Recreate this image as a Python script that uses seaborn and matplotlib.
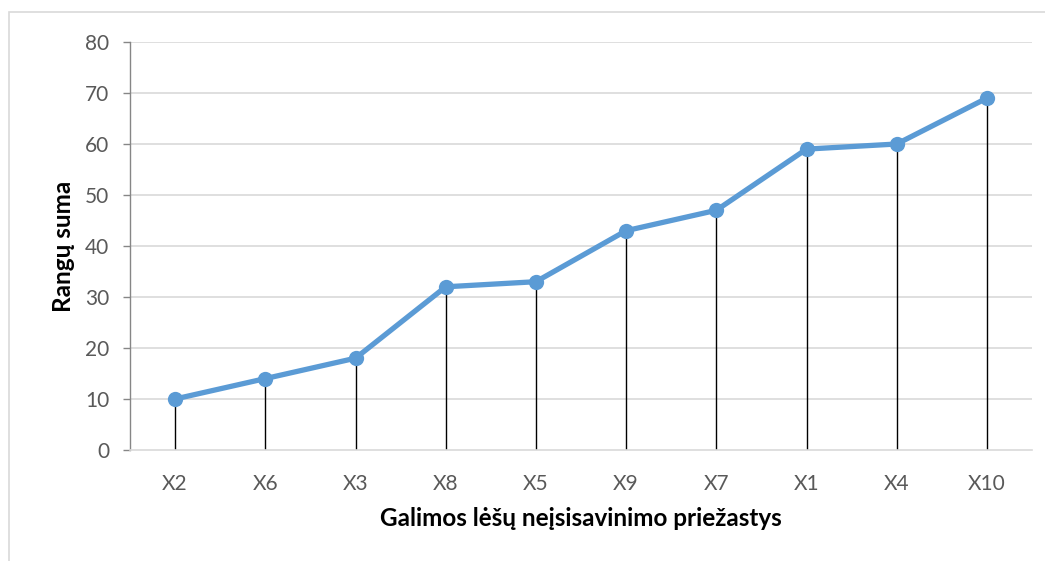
import matplotlib
matplotlib.use("Agg")
import matplotlib.pyplot as plt
import seaborn as sns
import pandas as pd
from matplotlib.patches import Rectangle

categories = ["X2", "X6", "X3", "X8", "X5", "X9", "X7", "X1", "X4", "X10"]
values = [10, 14, 18, 32, 33, 43, 47, 59, 60, 69]
y_ticks = [0, 10, 20, 30, 40, 50, 60, 70, 80]

sns.set_style("white")
plt.rcParams['font.family'] = ['Lato', 'DejaVu Sans']

df = pd.DataFrame({"pos": range(len(categories)), "cat": categories, "val": values})

fig = plt.figure(figsize=(10.45, 5.61), dpi=100)
ax = fig.add_axes([130/1045, 1 - 450/561, (1032-130)/1045, (450-42)/561])

# outer chart border
fig.patches.append(Rectangle((9/1045, -0.1), 1.2, 1 - 12/561 + 0.1, transform=fig.transFigure,
                             fill=False, edgecolor="#d9d9d9", linewidth=1.2, zorder=0))

for t in y_ticks[1:]:
    ax.axhline(t, color="#d9d9d9", lw=1.2, zorder=0)

ax.vlines(df["pos"], 0, df["val"], colors="black", lw=1, zorder=2)
sns.lineplot(data=df, x="pos", y="val", ax=ax, color="#5B9BD5", lw=3.8,
             marker="o", markersize=11, markeredgewidth=0, zorder=3)

ax.set_xlim(-0.5, len(categories) - 0.5)
ax.set_ylim(0, 80)
ax.set_xticks(range(len(categories)))
ax.set_xticklabels(categories)
ax.set_yticks(y_ticks)

for s in ["top", "right"]:
    ax.spines[s].set_visible(False)
ax.spines["left"].set_color("#868686")
ax.spines["left"].set_linewidth(1)
ax.spines["bottom"].set_color("#d9d9d9")
ax.spines["bottom"].set_linewidth(1.2)

ax.tick_params(axis="y", length=5, width=1, color="#868686", pad=10, labelsize=15, labelcolor="#595959", left=True)
ax.tick_params(axis="x", length=0, pad=17, labelsize=15, labelcolor="#595959")

ax.set_xlabel("Galimos lėšų neįsisavinimo priežastys", fontsize=17.5, fontweight="bold", color="black", labelpad=10)
ax.set_ylabel("Rangų suma", fontsize=17.5, fontweight="bold", color="black", labelpad=7)

fig.savefig("out.png", dpi=100)
